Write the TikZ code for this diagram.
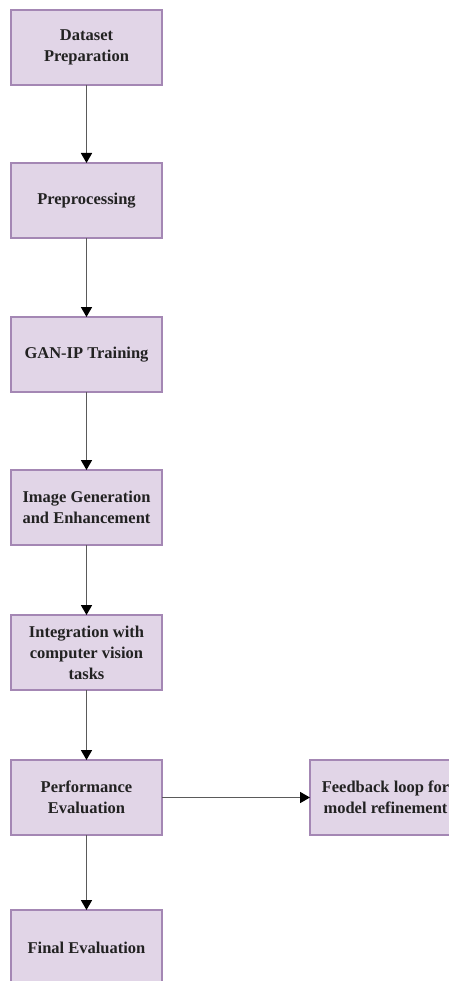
\documentclass[tikz,border=0pt]{standalone}
\usepackage{fontspec}
\setmainfont{Liberation Serif}
\usetikzlibrary{arrows.meta}
\definecolor{boxfill}{HTML}{E1D5E7}
\definecolor{boxline}{HTML}{A487B4}
\definecolor{wire}{HTML}{5A5A5A}
\definecolor{ink}{HTML}{222222}
\tikzset{
  stage/.style={draw=boxline, fill=boxfill, line width=1.4pt,
    minimum width=151pt, minimum height=75pt, inner sep=2pt, outer sep=0pt,
    align=center, text=ink, font=\fontsize{16.5}{21}\selectfont\bfseries},
  flow/.style={draw=wire, line width=1.7pt,
    -{Triangle[length=10pt,width=11pt,color=black]}}
}
\begin{document}
\begin{tikzpicture}[x=1pt,y=-1pt]
  \useasboundingbox (0,0) rectangle (448,981);
  \fill[white] (0,0) rectangle (448,981);
  \node[stage] (prep)  at (86.5,47.5)  {Dataset\\Preparation};
  \node[stage] (proc)  at (86.5,200.5) {Preprocessing};
  \node[stage] (train) at (86.5,354.5) {GAN-IP Training};
  \node[stage] (gen)   at (86.5,507.5) {Image Generation\\and Enhancement};
  \node[stage] (integ) at (86.5,652.5) {Integration with\\computer vision\\tasks};
  \node[stage] (perf)  at (86.5,797.5) {Performance\\Evaluation};
  \node[stage] (final) at (86.5,947.5) {Final Evaluation};
  \node[stage] (feed)  at (385.5,797.5) {Feedback loop for\\model refinement};
  \draw[flow] (prep) -- (proc);
  \draw[flow] (proc) -- (train);
  \draw[flow] (train) -- (gen);
  \draw[flow] (gen) -- (integ);
  \draw[flow] (integ) -- (perf);
  \draw[flow] (perf) -- (final);
  \draw[flow] (perf) -- (feed);
\end{tikzpicture}
\end{document}
